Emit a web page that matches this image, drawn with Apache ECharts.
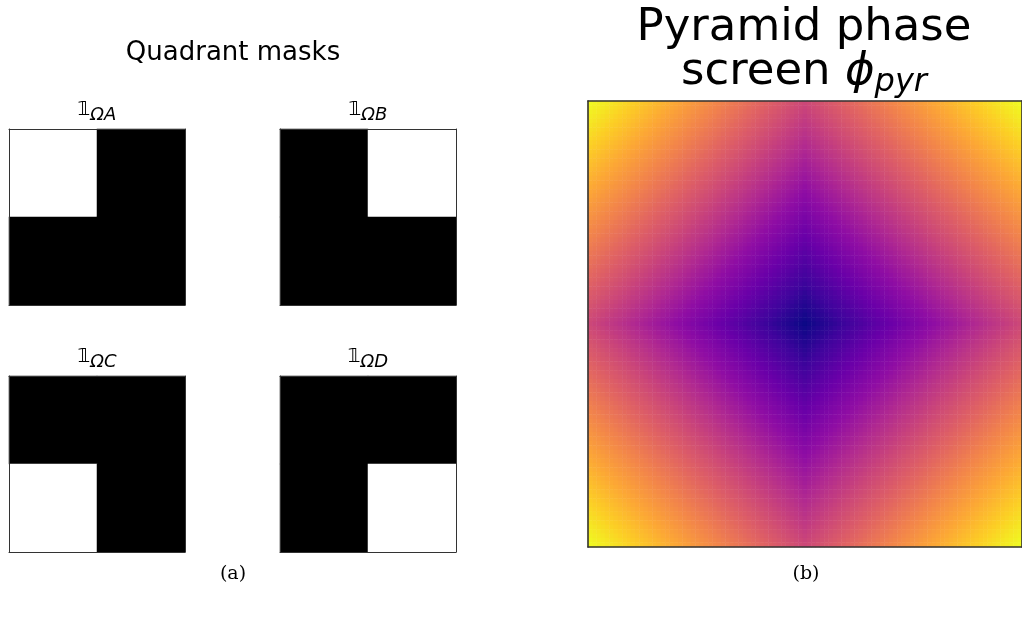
<!DOCTYPE html>
<html><head><meta charset="utf-8">
<script src="https://cdn.jsdelivr.net/npm/echarts@6/dist/echarts.min.js"></script>
<style>html,body{margin:0;padding:0;background:#fff}#c{width:1022px;height:617px}</style>
</head><body><div id="c"></div>
<script>
// ---- data ----
const maskNames = ['ΩA', 'ΩB', 'ΩC', 'ΩD'];
const maskA = [[1, 0], [0, 0]];
const maskB = [[0, 1], [0, 0]];
const maskC = [[0, 0], [1, 0]];
const maskD = [[0, 0], [0, 1]];
// tilt profile across the pupil (same along x and y); phase = tilt_x + tilt_y
const tiltProfile = [
  1.00,0.98,0.96,0.94,0.92,0.90,0.88,0.86,0.84,0.82,0.80,0.78,0.76,0.74,0.72,0.70,0.68,0.66,0.64,0.62,
  0.60,0.58,0.56,0.54,0.52,0.50,0.48,0.46,0.44,0.42,0.40,0.38,0.36,0.34,0.32,0.30,0.28,0.26,0.24,0.22,
  0.20,0.18,0.16,0.14,0.12,0.10,0.08,0.06,0.04,0.02,
  0.00,
  0.02,0.04,0.06,0.08,0.10,0.12,0.14,0.16,0.18,0.20,
  0.22,0.24,0.26,0.28,0.30,0.32,0.34,0.36,0.38,0.40,0.42,0.44,0.46,0.48,0.50,0.52,0.54,0.56,0.58,0.60,
  0.62,0.64,0.66,0.68,0.70,0.72,0.74,0.76,0.78,0.80,0.82,0.84,0.86,0.88,0.90,0.92,0.94,0.96,0.98,1.00];
const leftTitle = 'Quadrant masks';
const rightTitleLine1 = 'Pyramid phase';
const rightTitleLine2 = ['screen ', 'ϕ', 'pyr'];
const panelLabels = ['(a)', '(b)'];
const plasma = ['#0d0887','#41049d','#6a00a8','#8f0da4','#b12a90','#cc4778','#e16462','#f2844b','#fca636','#fcce25','#f0f921'];

// ---- layout ----
const gridBoxes = [
  {left: 9, top: 129, width: 176, height: 176},
  {left: 280, top: 129, width: 176, height: 176},
  {left: 9, top: 376, width: 176, height: 176},
  {left: 280, top: 376, width: 176, height: 176},
  {left: 588, top: 101, width: 436, height: 446}
];
const masks = [maskA, maskB, maskC, maskD];

const xAxis = [], yAxis = [];
gridBoxes.forEach((g, i) => {
  const n = i < 4 ? 2 : tiltProfile.length;
  const cats = Array.from({length: n}, (_, k) => k);
  const ls = {color: '#333', width: i < 4 ? 1 : 1.6};
  ['bottom', 'top'].forEach(pos => xAxis.push({
    type: 'category', gridIndex: i, data: cats, position: pos,
    axisLine: {show: true, onZero: false, lineStyle: ls},
    axisTick: {show: false}, axisLabel: {show: false}, splitLine: {show: false}, z: 10
  }));
  ['left', 'right'].forEach(pos => yAxis.push({
    type: 'category', gridIndex: i, data: cats, position: pos, inverse: true,
    axisLine: {show: true, onZero: false, lineStyle: ls},
    axisTick: {show: false}, axisLabel: {show: false}, splitLine: {show: false}, z: 10
  }));
});

const series = [];
masks.forEach((m, i) => {
  const data = [];
  m.forEach((row, r) => row.forEach((v, c) => data.push([c, r, v])));
  series.push({
    type: 'heatmap', xAxisIndex: 2 * i, yAxisIndex: 2 * i, data,
    itemStyle: {borderWidth: 0}, emphasis: {disabled: true}, silent: true
  });
});
const phase = [];
tiltProfile.forEach((ty, r) => tiltProfile.forEach((tx, c) => phase.push([c, r, tx + ty])));
series.push({
  type: 'heatmap', xAxisIndex: 8, yAxisIndex: 8, data: phase, progressive: 0,
  itemStyle: {borderWidth: 0}, emphasis: {disabled: true}, silent: true
});

const graphic = [];
graphic.push({type: 'text', x: 233, y: 53, style: {text: leftTitle, font: '26px "DejaVu Sans"', fill: '#000', align: 'center', verticalAlign: 'middle'}});
graphic.push({type: 'text', x: 804, y: 28, style: {text: rightTitleLine1, font: '45px "DejaVu Sans"', fill: '#000', align: 'center', verticalAlign: 'middle'}});
graphic.push({type: 'text', x: 804, y: 72, style: {
  text: '{n|' + rightTitleLine2[0] + '}{p|' + rightTitleLine2[1] + '}{s|' + rightTitleLine2[2] + '}',
  align: 'center', verticalAlign: 'middle',
  rich: {
    n: {font: '45px "DejaVu Sans"', fill: '#000'},
    p: {font: 'italic 45px "DejaVu Sans"', fill: '#000'},
    s: {font: 'italic 32px "DejaVu Sans"', fill: '#000', padding: [21, 0, 0, 0]}
  }
}});
gridBoxes.slice(0, 4).forEach((g, i) => {
  graphic.push({type: 'text', x: g.left + g.width / 2, y: (i < 2 ? 110 : 357), style: {
    text: '{o|𝟙}{s|' + maskNames[i] + '}', align: 'center', verticalAlign: 'middle',
    rich: {
      o: {font: 'italic 20px "DejaVu Sans"', fill: '#000'},
      s: {font: 'italic 18px "DejaVu Sans"', fill: '#000', padding: [10, 0, 0, 0]}
    }
  }});
});
graphic.push({type: 'text', x: 233, y: 574, style: {text: panelLabels[0], font: '19px "DejaVu Serif"', fill: '#000', align: 'center', verticalAlign: 'middle'}});
graphic.push({type: 'text', x: 806, y: 574, style: {text: panelLabels[1], font: '19px "DejaVu Serif"', fill: '#000', align: 'center', verticalAlign: 'middle'}});

const chart = echarts.init(document.getElementById('c'), null, {renderer: 'canvas'});
chart.setOption({
  animation: false,
  backgroundColor: '#fff',
  grid: gridBoxes.map(g => Object.assign({containLabel: false}, g)),
  xAxis, yAxis,
  visualMap: [
    {type: 'piecewise', show: false, seriesIndex: [0, 1, 2, 3], dimension: 2,
     pieces: [{value: 0, color: '#000000'}, {value: 1, color: '#ffffff'}]},
    {type: 'continuous', show: false, seriesIndex: 4, dimension: 2, min: 0, max: 2,
     inRange: {color: plasma}}
  ],
  series,
  graphic
});
</script></body></html>
